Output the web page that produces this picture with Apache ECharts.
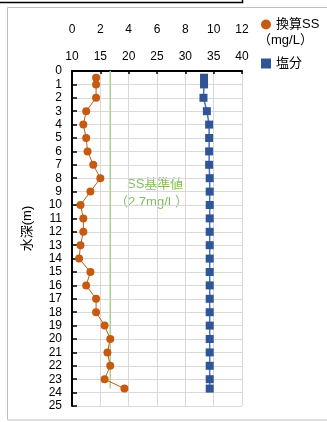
<!DOCTYPE html>
<html><head><meta charset="utf-8">
<script src="https://cdn.jsdelivr.net/npm/echarts@6/dist/echarts.min.js"></script>
<style>html,body{margin:0;padding:0;background:#fff}#c{width:327px;height:422px}</style>
</head><body><div id="c"></div>
<script>
const depths = [0.5,1,2,3,4,5,6,7,8,9,10,11,12,13,14,15,16,17,18,19,20,21,22,23,23.7];
const ssValues = [1.7,1.7,1.7,1.0,0.8,1.0,1.1,1.5,2.0,1.3,0.6,0.8,0.8,0.6,0.5,1.3,1.0,1.7,1.7,2.3,2.7,2.5,2.7,2.3,3.7];
const saltValues = [33.3,33.3,33.2,33.8,34.2,34.2,34.2,34.2,34.3,34.3,34.3,34.3,34.3,34.3,34.3,34.3,34.3,34.3,34.3,34.3,34.3,34.3,34.3,34.3,34.3];
const ssStandard = 2.7;
const ssStandardDepths = [0, 23.7];
const ssTicks = [0,2,4,6,8,10,12];
const saltTicks = [10,15,20,25,30,35,40];
const depthMax = 25;

const FONT = "'Liberation Sans','Noto Sans CJK JP',sans-serif";
const chart = echarts.init(document.getElementById('c'));
chart.setOption({
  animation: false,
  textStyle: {fontFamily: FONT},
  grid: {left: 72, top: 71, width: 170, height: 335},
  legend: {
    orient: 'vertical', left: 256, top: 13, itemGap: 26,
    itemWidth: 10, itemHeight: 10,
    textStyle: {fontSize: 13, color: '#000', fontFamily: FONT},
    data: [
      {name: '換算SS', icon: 'circle', itemStyle: {color: '#c55a11'}},
      {name: '塩分', icon: 'rect', itemStyle: {color: '#2f5597'}}
    ]
  },
  xAxis: [
    {
      type: 'value', position: 'top', offset: 27,
      min: ssTicks[0], max: ssTicks[ssTicks.length-1], interval: 2,
      axisLine: {show: true, lineStyle: {color: '#d9d9d9', width: 1}},
      axisTick: {show: false},
      axisLabel: {color: '#000', fontSize: 12, margin: 8},
      splitLine: {show: true, lineStyle: {color: '#d9d9d9', width: 1}}
    },
    {
      type: 'value', position: 'top',
      min: saltTicks[0], max: saltTicks[saltTicks.length-1], interval: 5,
      axisLine: {show: true, lineStyle: {color: '#000', width: 2}},
      axisTick: {show: true, inside: true, length: 3, lineStyle: {color: '#000', width: 1.5}},
      axisLabel: {color: '#000', fontSize: 12, margin: 8},
      splitLine: {show: false}
    }
  ],
  yAxis: {
    type: 'value', inverse: true, min: 0, max: depthMax, interval: 1,
    name: '水深(m)', nameLocation: 'middle', nameGap: 38,
    nameTextStyle: {color: '#000', fontSize: 13, fontFamily: FONT, padding: [0, 0, 0, 20]},
    axisLine: {show: true, lineStyle: {color: '#000', width: 2}},
    axisTick: {show: true, inside: true, length: 5, lineStyle: {color: '#000', width: 1.5}},
    axisLabel: {color: '#000', fontSize: 12, margin: 10},
    splitLine: {show: true, lineStyle: {color: '#d9d9d9', width: 1}}
  },
  series: [
    {
      name: 'SS基準値', type: 'line', xAxisIndex: 0, silent: true,
      data: ssStandardDepths.map(d => [ssStandard, d]),
      symbol: 'none', lineStyle: {color: '#a9d18e', width: 1.5}, z: 1
    },
    {
      name: '換算SS', type: 'line', xAxisIndex: 0,
      data: ssValues.map((v,i) => [v, depths[i]]),
      symbol: 'circle', symbolSize: 8,
      itemStyle: {color: '#c55a11'},
      lineStyle: {color: '#c55a11', width: 1}, z: 3
    },
    {
      name: '塩分', type: 'line', xAxisIndex: 1,
      data: saltValues.map((v,i) => [v, depths[i]]),
      symbol: 'rect', symbolSize: 8,
      itemStyle: {color: '#2f5597'},
      lineStyle: {color: '#4a72c0', width: 1.5}, z: 3
    }
  ],
  graphic: [
    {type: 'rect', shape: {x: 7.5, y: 7.5, width: 340, height: 412.5}, style: {fill: 'none', stroke: '#bfbfbf', lineWidth: 1}, z: -1},
    {type: 'rect', shape: {x: -3, y: -10, width: 245.5, height: 12.5}, style: {fill: 'none', stroke: '#000', lineWidth: 1.5}},
    {type: 'text', left: 258, top: 34, style: {text: '（mg/L）', fontSize: 13, fill: '#000', fontFamily: FONT}},
    {type: 'text', left: 127, top: 178, style: {text: 'SS基準値', fontSize: 13, fill: '#84bd5f', fontFamily: FONT}},
    {type: 'text', left: 115, top: 196, style: {text: '（2.7mg/L）', fontSize: 13, fill: '#84bd5f', fontFamily: FONT}}
  ]
});
</script></body></html>
